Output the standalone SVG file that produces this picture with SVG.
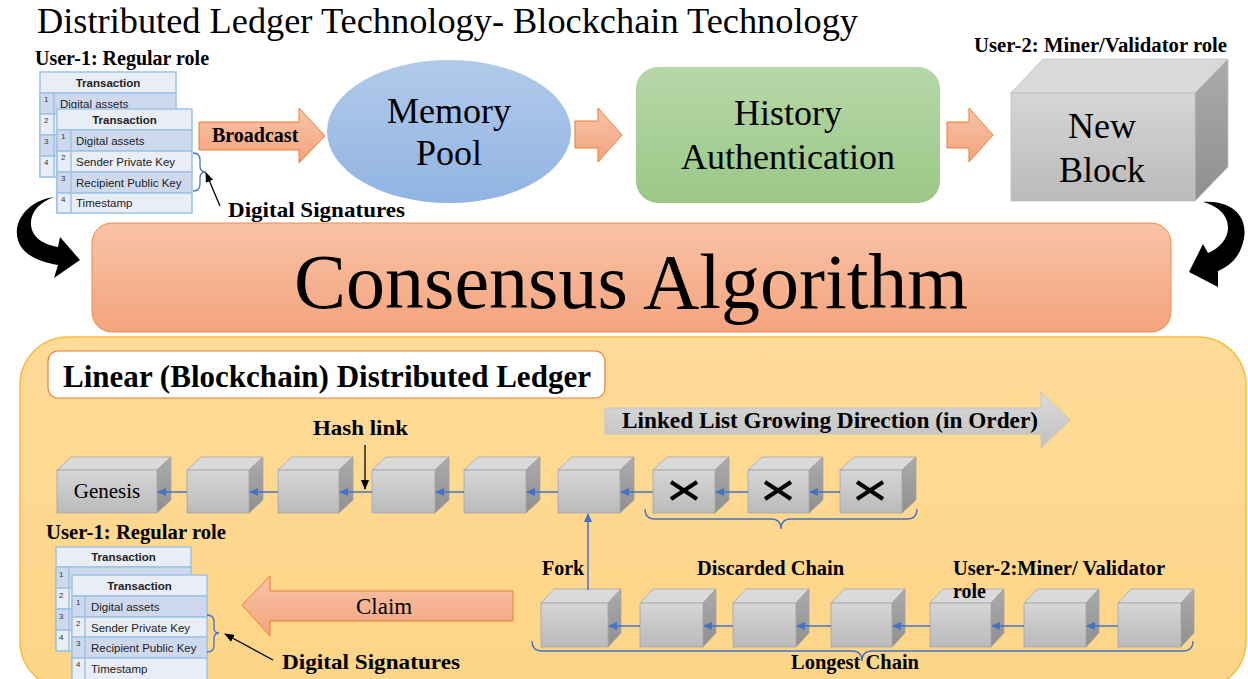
<svg xmlns="http://www.w3.org/2000/svg" width="1248" height="679" viewBox="0 0 1248 679">
<defs>
<linearGradient id="gOr" x1="0" y1="0" x2="0" y2="1"><stop offset="0" stop-color="#f8c3a8"/><stop offset="1" stop-color="#f4a47d"/></linearGradient>
<linearGradient id="gBlue" x1="0" y1="0" x2="0" y2="1"><stop offset="0" stop-color="#b1cae9"/><stop offset="1" stop-color="#91b4e2"/></linearGradient>
<linearGradient id="gGreen" x1="0" y1="0" x2="0" y2="1"><stop offset="0" stop-color="#b7d7a8"/><stop offset="1" stop-color="#9bc887"/></linearGradient>
<linearGradient id="gFront" x1="0" y1="0" x2="0" y2="1"><stop offset="0" stop-color="#d6d6d6"/><stop offset="1" stop-color="#bababa"/></linearGradient>
<linearGradient id="gSide" x1="0" y1="0" x2="0" y2="1"><stop offset="0" stop-color="#ababab"/><stop offset="1" stop-color="#8f8f8f"/></linearGradient>
<linearGradient id="gGray" x1="0" y1="0" x2="0" y2="1"><stop offset="0" stop-color="#dcdcdc"/><stop offset="1" stop-color="#c0c0c0"/></linearGradient>
<linearGradient id="gBg" x1="0" y1="0" x2="0" y2="1"><stop offset="0" stop-color="#fedb98"/><stop offset="1" stop-color="#fdd587"/></linearGradient>
<marker id="mBlue" markerUnits="userSpaceOnUse" markerWidth="9" markerHeight="8" refX="8" refY="4" orient="auto"><path d="M0,0 L9,4 L0,8 Z" fill="#4472c4"/></marker>
<marker id="mBlack" markerUnits="userSpaceOnUse" markerWidth="10" markerHeight="8" refX="9" refY="4" orient="auto"><path d="M0,0 L10,4 L0,8 Z" fill="#000"/></marker>
</defs>
<style>
.serif{font-family:"Liberation Serif","Times New Roman",serif;fill:#000}
.b{font-weight:bold}
.sans{font-family:"Liberation Sans",Arial,sans-serif;fill:#222;font-size:11.5px}
.num{font-family:"Liberation Sans",Arial,sans-serif;fill:#333;font-size:8px}
.hdr{fill:#e9edf6;stroke:#9dc3e6;stroke-width:1.5}
.rd{fill:#cfd9ee;stroke:#9dc3e6;stroke-width:1.5}
.rl{fill:#e9edf6;stroke:#9dc3e6;stroke-width:1.5}
.ctop{fill:#dadada;stroke:#a3a3a3;stroke-width:0.75}
.cfront{fill:url(#gFront);stroke:#a3a3a3;stroke-width:0.75}
.cside{fill:url(#gSide);stroke:#a3a3a3;stroke-width:0.75}
.oarrow{fill:url(#gOr);stroke:#ed7d31;stroke-width:1}
.bl{stroke:#4472c4;stroke-width:1.5;fill:none}
.brace{stroke:#4472c4;stroke-width:1.3;fill:none}
.x{stroke:#000;stroke-width:4}
</style>
<rect width="1248" height="679" fill="#fff"/>

<g id="title"><text class="serif" x="37" y="33" font-size="36" textLength="821" lengthAdjust="spacingAndGlyphs">Distributed Ledger Technology- Blockchain Technology</text></g>

<g id="ledger-region"><rect x="20" y="337" width="1226" height="352" rx="48" fill="url(#gBg)" stroke="#f6bb3c" stroke-width="1.5"/></g>

<g id="user1-top">
<text class="serif b" x="35" y="65" font-size="20">User-1: Regular role</text>
<g id="tx-back-top">
<rect class="hdr" x="40" y="72" width="136" height="21"/>
<rect class="rd" x="40" y="93" width="136" height="21"/><rect class="rd" x="40" y="93" width="14" height="21"/>
<rect class="rl" x="40" y="114" width="136" height="21"/><rect class="rl" x="40" y="114" width="14" height="21"/>
<rect class="rd" x="40" y="135" width="136" height="21"/><rect class="rd" x="40" y="135" width="14" height="21"/>
<rect class="rl" x="40" y="156" width="136" height="21"/><rect class="rl" x="40" y="156" width="14" height="21"/>
<text class="sans" x="108" y="87" text-anchor="middle" font-weight="bold">Transaction</text>
<text class="sans" x="60" y="108">Digital assets</text>
<text class="num" x="44" y="102">1</text><text class="num" x="44" y="123">2</text><text class="num" x="44" y="144">3</text><text class="num" x="44" y="165">4</text>
</g>
<g id="tx-front-top">
<rect class="hdr" x="57" y="109" width="135" height="21"/>
<rect class="rd" x="57" y="130" width="135" height="21"/><rect class="rd" x="57" y="130" width="14" height="21"/>
<rect class="rl" x="57" y="151" width="135" height="21"/><rect class="rl" x="57" y="151" width="14" height="21"/>
<rect class="rd" x="57" y="172" width="135" height="21"/><rect class="rd" x="57" y="172" width="14" height="21"/>
<rect class="rl" x="57" y="193" width="135" height="20"/><rect class="rl" x="57" y="193" width="14" height="20"/>
<text class="sans" x="124.5" y="124" text-anchor="middle" font-weight="bold">Transaction</text>
<text class="sans" x="76" y="145">Digital assets</text>
<text class="sans" x="76" y="166">Sender  Private Key</text>
<text class="sans" x="76" y="187">Recipient Public Key</text>
<text class="sans" x="76" y="207">Timestamp</text>
<text class="num" x="61" y="139">1</text><text class="num" x="61" y="160">2</text><text class="num" x="61" y="181">3</text><text class="num" x="61" y="202">4</text>
</g>
<path class="brace" d="M193,153 Q200,153 200,160 L200,166 Q200,172 206,172 Q200,172 200,178 L200,184 Q200,191 193,191"/>
<text class="serif b" x="228" y="217" font-size="22" textLength="177" lengthAdjust="spacingAndGlyphs">Digital Signatures</text>
</g>

<g id="memory-pool">
<ellipse cx="449" cy="131.5" rx="122" ry="71.5" fill="url(#gBlue)"/>
<text class="serif" x="449" y="123" font-size="36" text-anchor="middle">Memory</text>
<text class="serif" x="449" y="165" font-size="36" text-anchor="middle">Pool</text>
</g>

<g id="history-authentication">
<rect x="636" y="67" width="304" height="136" rx="22" fill="url(#gGreen)"/>
<text class="serif" x="788" y="125" font-size="36" text-anchor="middle">History</text>
<text class="serif" x="788" y="169" font-size="36" text-anchor="middle">Authentication</text>
</g>

<g id="new-block">
<text class="serif b" x="974" y="52" font-size="20" textLength="253" lengthAdjust="spacingAndGlyphs">User-2: Miner/Validator role</text>
<polygon points="1011,93 1043,59 1228,59 1195,93" fill="#d9d9d9" stroke="#bdbdbd" stroke-width="0.75"/>
<polygon points="1195,93 1228,59 1228,167 1195,201" fill="url(#gSide)" stroke="#bdbdbd" stroke-width="0.75"/>
<rect x="1011" y="93" width="184" height="108" fill="url(#gFront)" stroke="#bdbdbd" stroke-width="0.75"/>
<text class="serif" x="1102" y="138" font-size="36" text-anchor="middle">New</text>
<text class="serif" x="1102" y="182" font-size="36" text-anchor="middle">Block</text>
</g>

<g id="consensus-algorithm">
<rect x="92" y="223" width="1079" height="109" rx="20" fill="url(#gOr)" stroke="#f08a4b" stroke-width="1"/>
<text class="serif" x="631" y="308" font-size="78" text-anchor="middle" textLength="674" lengthAdjust="spacingAndGlyphs">Consensus Algorithm</text>
</g>

<g id="linear-ledger-title">
<rect x="48" y="351" width="557" height="47" rx="10" fill="#fff" stroke="#ed7d31" stroke-width="1.2"/>
<text class="serif b" x="63" y="387" font-size="31" textLength="528" lengthAdjust="spacingAndGlyphs">Linear (Blockchain) Distributed Ledger</text>
</g>

<g id="growing-direction">
<polygon points="605,408 1041,408 1041,392 1070,420 1041,448 1041,434 605,434" fill="url(#gGray)" stroke="#c4c4c4" stroke-width="1"/>
<text class="serif b" x="622" y="428" font-size="23" textLength="416" lengthAdjust="spacingAndGlyphs">Linked List Growing Direction (in Order)</text>
</g>

<g id="main-chain">
<g id="genesis"><polygon class="ctop" points="57,470 71,457 171,457 157,470"/><polygon class="cside" points="157,470 171,457 171,500 157,513"/><rect class="cfront" x="57" y="470" width="100" height="43"/>
<text class="serif" x="107" y="498" font-size="21" text-anchor="middle">Genesis</text></g>
<g id="block2"><polygon class="ctop" points="187,470 201,457 263,457 249,470"/><polygon class="cside" points="249,470 263,457 263,500 249,513"/><rect class="cfront" x="187" y="470" width="62" height="43"/></g>
<g id="block3"><polygon class="ctop" points="278,470 292,457 353,457 339,470"/><polygon class="cside" points="339,470 353,457 353,500 339,513"/><rect class="cfront" x="278" y="470" width="61" height="43"/></g>
<g id="block4"><polygon class="ctop" points="372,470 386,457 449,457 435,470"/><polygon class="cside" points="435,470 449,457 449,500 435,513"/><rect class="cfront" x="372" y="470" width="63" height="43"/></g>
<g id="block5"><polygon class="ctop" points="464,470 478,457 540,457 526,470"/><polygon class="cside" points="526,470 540,457 540,500 526,513"/><rect class="cfront" x="464" y="470" width="62" height="43"/></g>
<g id="block6"><polygon class="ctop" points="558,470 572,457 634,457 620,470"/><polygon class="cside" points="620,470 634,457 634,500 620,513"/><rect class="cfront" x="558" y="470" width="62" height="43"/></g>
<g id="discarded1"><polygon class="ctop" points="653,470 667,457 729,457 715,470"/><polygon class="cside" points="715,470 729,457 729,500 715,513"/><rect class="cfront" x="653" y="470" width="62" height="43"/>
<path class="x" d="M671,482 L697,499 M671,499 L697,482"/></g>
<g id="discarded2"><polygon class="ctop" points="748,470 762,457 823,457 809,470"/><polygon class="cside" points="809,470 823,457 823,500 809,513"/><rect class="cfront" x="748" y="470" width="61" height="43"/>
<path class="x" d="M765,482 L791,499 M765,499 L791,482"/></g>
<g id="discarded3"><polygon class="ctop" points="840,470 854,457 916,457 902,470"/><polygon class="cside" points="902,470 916,457 916,500 902,513"/><rect class="cfront" x="840" y="470" width="62" height="43"/>
<path class="x" d="M857,482 L883,499 M857,499 L883,482"/></g>
<text class="serif b" x="313" y="435" font-size="22" textLength="95" lengthAdjust="spacingAndGlyphs">Hash link</text>
</g>

<g id="fork-chain">
<g id="f1"><polygon class="ctop" points="541,603 554,589 621,589 608,603"/><polygon class="cside" points="608,603 621,589 621,633 608,647"/><rect class="cfront" x="541" y="603" width="67" height="44"/></g>
<g id="f2"><polygon class="ctop" points="640,603 653,589 716,589 703,603"/><polygon class="cside" points="703,603 716,589 716,633 703,647"/><rect class="cfront" x="640" y="603" width="63" height="44"/></g>
<g id="f3"><polygon class="ctop" points="733,603 746,589 809,589 796,603"/><polygon class="cside" points="796,603 809,589 809,633 796,647"/><rect class="cfront" x="733" y="603" width="63" height="44"/></g>
<g id="f4"><polygon class="ctop" points="831,603 844,589 905,589 892,603"/><polygon class="cside" points="892,603 905,589 905,633 892,647"/><rect class="cfront" x="831" y="603" width="61" height="44"/></g>
<g id="f5"><polygon class="ctop" points="930,603 943,589 1004,589 991,603"/><polygon class="cside" points="991,603 1004,589 1004,633 991,647"/><rect class="cfront" x="930" y="603" width="61" height="44"/></g>
<g id="f6"><polygon class="ctop" points="1024,603 1037,589 1099,589 1086,603"/><polygon class="cside" points="1086,603 1099,589 1099,633 1086,647"/><rect class="cfront" x="1024" y="603" width="62" height="44"/></g>
<g id="f7"><polygon class="ctop" points="1118,603 1131,589 1194,589 1181,603"/><polygon class="cside" points="1181,603 1194,589 1194,633 1181,647"/><rect class="cfront" x="1118" y="603" width="63" height="44"/></g>
<text class="serif b" x="542" y="575" font-size="20">Fork</text>
<text class="serif b" x="697" y="575" font-size="20" textLength="147" lengthAdjust="spacingAndGlyphs">Discarded Chain</text>
<text class="serif b" x="953" y="575" font-size="20" textLength="212" lengthAdjust="spacingAndGlyphs">User-2:Miner/ Validator</text>
<text class="serif b" x="953" y="598" font-size="20">role</text>
<text class="serif b" x="791" y="669" font-size="20" textLength="128" lengthAdjust="spacingAndGlyphs">Longest Chain</text>
</g>

<g id="user1-bottom">
<text class="serif b" x="46" y="539" font-size="20" textLength="180" lengthAdjust="spacingAndGlyphs">User-1: Regular role</text>
<g id="tx-back-bottom">
<rect class="hdr" x="56" y="547" width="135" height="20"/>
<rect class="rd" x="56" y="567" width="135" height="21"/><rect class="rd" x="56" y="567" width="13" height="21"/>
<rect class="rl" x="56" y="588" width="135" height="21"/><rect class="rl" x="56" y="588" width="13" height="21"/>
<rect class="rd" x="56" y="609" width="135" height="21"/><rect class="rd" x="56" y="609" width="13" height="21"/>
<rect class="rl" x="56" y="630" width="135" height="21"/><rect class="rl" x="56" y="630" width="13" height="21"/>
<text class="sans" x="123.5" y="561" text-anchor="middle" font-weight="bold">Transaction</text>
<text class="num" x="59" y="577">1</text><text class="num" x="59" y="598">2</text><text class="num" x="59" y="619">3</text><text class="num" x="59" y="640">4</text>
</g>
<g id="tx-front-bottom">
<rect class="hdr" x="72" y="575" width="135" height="21"/>
<rect class="rd" x="72" y="596" width="135" height="21"/><rect class="rd" x="72" y="596" width="13" height="21"/>
<rect class="rl" x="72" y="617" width="135" height="20"/><rect class="rl" x="72" y="617" width="13" height="20"/>
<rect class="rd" x="72" y="637" width="135" height="21"/><rect class="rd" x="72" y="637" width="13" height="21"/>
<rect class="rl" x="72" y="658" width="135" height="22"/><rect class="rl" x="72" y="658" width="13" height="22"/>
<text class="sans" x="139.5" y="590" text-anchor="middle" font-weight="bold">Transaction</text>
<text class="sans" x="91" y="611">Digital assets</text>
<text class="sans" x="91" y="632">Sender  Private Key</text>
<text class="sans" x="91" y="652">Recipient Public Key</text>
<text class="sans" x="91" y="673">Timestamp</text>
<text class="num" x="76" y="605">1</text><text class="num" x="76" y="626">2</text><text class="num" x="76" y="646">3</text><text class="num" x="76" y="667">4</text>
</g>
<path class="brace" d="M207,615 Q214,615 214,622 L214,628 Q214,633 219,633 Q214,633 214,639 L214,645 Q214,652 207,652"/>
<text class="serif b" x="282" y="669" font-size="22" textLength="178" lengthAdjust="spacingAndGlyphs">Digital Signatures</text>
</g>

<g id="connectors">
<g id="broadcast"><polygon class="oarrow" points="199,122 299,122 299,108 325,136 299,163 299,150 199,150"/>
<text class="serif b" x="212" y="142" font-size="20">Broadcast</text></g>
<polygon class="oarrow" points="575,121 598,121 598,108 622,135 598,162 598,148 575,148"/>
<polygon class="oarrow" points="947,122 969,122 969,108 993,135 969,162 969,148 947,148"/>
<g id="claim"><polygon class="oarrow" points="242,605 270,576 270,591 513,591 513,621 270,621 270,636"/>
<text class="serif" x="356" y="614" font-size="23">Claim</text></g>
<path d="M54,197 C30,200 12,220 18,240 C22,255 40,262 58,265 L54,278 L80,260 L60,237 L58,247 C45,245 32,238 31,225 C30,212 40,202 54,197 Z" fill="#000"/>
<path d="M1203,202 C1230,200 1248,215 1244,238 C1241,255 1232,265 1218,271 L1218,287 L1189,272 L1203,244 L1208,253 C1220,248 1228,238 1228,228 C1228,215 1218,206 1203,202 Z" fill="#000"/>
<line x1="220" y1="206" x2="206" y2="173" stroke="#000" stroke-width="1.3" marker-end="url(#mBlack)"/>
<line x1="273" y1="660" x2="225" y2="634" stroke="#000" stroke-width="1.3" marker-end="url(#mBlack)"/>
<line x1="365" y1="445" x2="365" y2="489" stroke="#000" stroke-width="1.3" marker-end="url(#mBlack)"/>
<line class="bl" x1="187" y1="492" x2="158" y2="492" marker-end="url(#mBlue)"/>
<line class="bl" x1="278" y1="492" x2="250" y2="492" marker-end="url(#mBlue)"/>
<line class="bl" x1="372" y1="492" x2="340" y2="492" marker-end="url(#mBlue)"/>
<line class="bl" x1="464" y1="492" x2="436" y2="492" marker-end="url(#mBlue)"/>
<line class="bl" x1="558" y1="492" x2="527" y2="492" marker-end="url(#mBlue)"/>
<line class="bl" x1="653" y1="492" x2="621" y2="492" marker-end="url(#mBlue)"/>
<line class="bl" x1="748" y1="492" x2="716" y2="492" marker-end="url(#mBlue)"/>
<line class="bl" x1="840" y1="492" x2="810" y2="492" marker-end="url(#mBlue)"/>
<line class="bl" x1="640" y1="626" x2="609" y2="626" marker-end="url(#mBlue)"/>
<line class="bl" x1="733" y1="626" x2="704" y2="626" marker-end="url(#mBlue)"/>
<line class="bl" x1="831" y1="626" x2="797" y2="626" marker-end="url(#mBlue)"/>
<line class="bl" x1="930" y1="626" x2="893" y2="626" marker-end="url(#mBlue)"/>
<line class="bl" x1="1024" y1="626" x2="992" y2="626" marker-end="url(#mBlue)"/>
<line class="bl" x1="1118" y1="626" x2="1087" y2="626" marker-end="url(#mBlue)"/>
<line class="bl" x1="588" y1="590" x2="588" y2="514" marker-end="url(#mBlue)"/>
<path class="brace" d="M645,509 Q645,519 655,519 L771,519 Q781,519 781,529 Q781,519 791,519 L907,519 Q917,519 917,509"/>
<path class="brace" d="M532,641 Q532,651 542,651 L852,651 Q862,651 862,661 Q862,651 872,651 L1183,651 Q1193,651 1193,641"/>
</g>
</svg>
